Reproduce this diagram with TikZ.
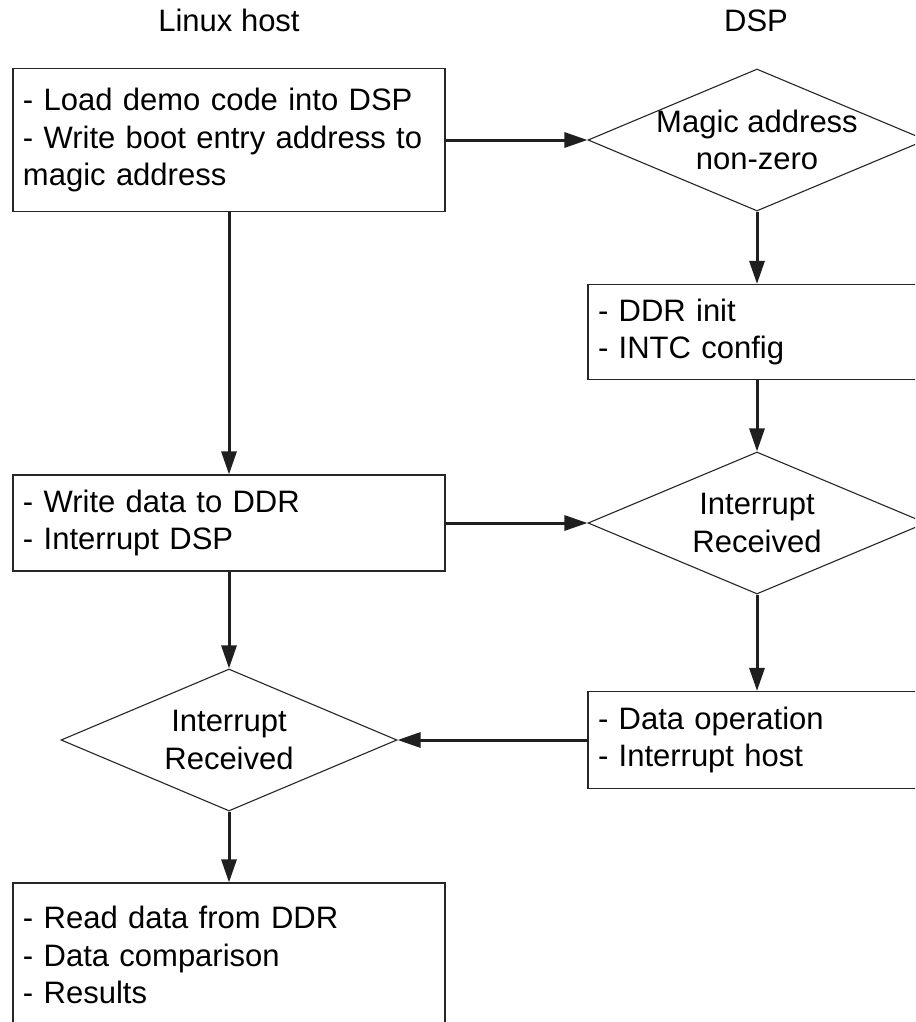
\documentclass[tikz,border=0pt]{standalone}
\usepackage{fontspec}
\setmainfont{Liberation Sans}
\usetikzlibrary{arrows.meta,shapes.geometric}
\begin{document}
\begin{tikzpicture}[x=1pt,y=-1pt,
  every node/.style={font=\fontsize{31}{37.5}\selectfont, text=black},
  procbox/.style={draw=black!85, line width=1.1pt, rectangle, fill=white,
    inner xsep=10pt, inner ysep=0pt, align=left},
  decision/.style={draw=black!85, line width=1.1pt, diamond, fill=white,
    inner sep=0pt},
  flow/.style={draw=black!88, line width=3pt,
    -{Triangle[length=23pt,width=15pt]}},
  heading/.style={anchor=base}
]
\useasboundingbox (0,0) rectangle (915,1022);
\clip (0,0) rectangle (915,1022);
\fill[white] (0,0) rectangle (915,1022);

% headings
\node[heading] (hlinux) at (229,32) {Linux host};
\node[heading] (hdsp) at (756,32) {DSP};

% left column
\node[procbox, text width=412pt, minimum height=143pt] (box1) at (229,140)
  {\mbox{- Load demo code into DSP}\\\mbox{- Write boot entry address to}\\magic address};
\node[procbox, text width=412pt, minimum height=96pt] (box2) at (229,523)
  {- Write data to DDR\\- Interrupt DSP};
\node[decision, minimum width=336pt, minimum height=142pt] (dia3) at (229,740) {};
\node[align=center] (dia3t) at (dia3.center) {Interrupt\\Received};
\node[procbox, text width=412pt, minimum height=144pt] (box4) at (229,955)
  {- Read data from DDR\\- Data comparison\\- Results};

% right column
\node[decision, minimum width=338pt, minimum height=142pt] (dia1) at (757,140) {};
\node[align=center] (dia1t) at (dia1.center) {Magic address\\non-zero};
\node[procbox, text width=318pt, minimum height=95pt] (ddr) at (757,332)
  {- DDR init\\- INTC config};
\node[decision, minimum width=338pt, minimum height=142pt] (dia2) at (757,523) {};
\node[align=center] (dia2t) at (dia2.center) {Interrupt\\Received};
\node[procbox, text width=318pt, minimum height=97pt] (box3) at (757,740)
  {- Data operation\\- Interrupt host};

% connectors
\draw[flow] (box1.east) -- (dia1.west);
\draw[flow] (dia1.south) -- (ddr.north);
\draw[flow] (ddr.south) -- (dia2.north);
\draw[flow] (box1.south) -- (box2.north);
\draw[flow] (box2.east) -- (dia2.west);
\draw[flow] (dia2.south) -- (box3.north);
\draw[flow] (box2.south) -- (dia3.north);
\draw[flow] (box3.west) -- (dia3.east);
\draw[flow] (dia3.south) -- (box4.north);
\end{tikzpicture}
\end{document}
